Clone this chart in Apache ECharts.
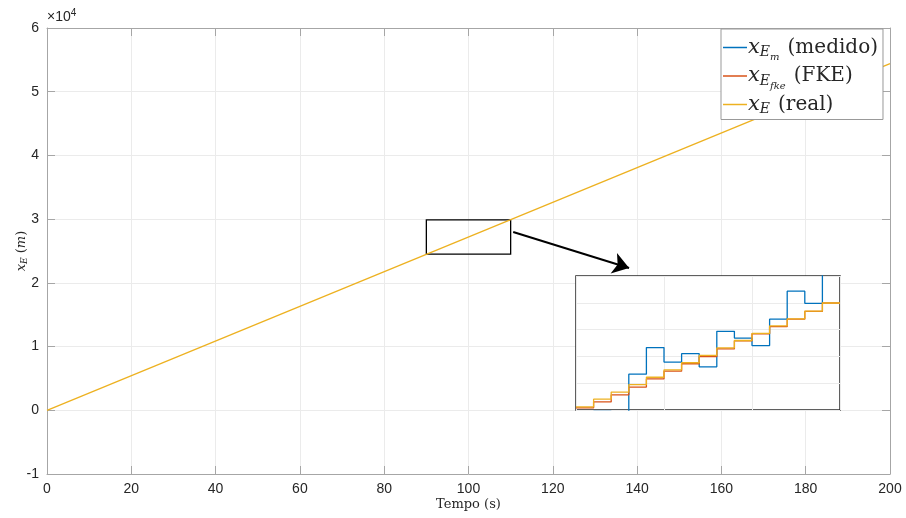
<!DOCTYPE html>
<html>
<head>
<meta charset="utf-8">
<script src="https://cdn.jsdelivr.net/npm/echarts@6/dist/echarts.min.js"></script>
<style>
  html, body { margin: 0; padding: 0; background: #fff; }
  #chart { width: 906px; height: 518px; }
</style>
</head>
<body>
<div id="chart"></div>
<script>
// recta principal (x_E real)
const mainTime = [0, 200];
const mainReal = [0, 54400];

// zoom: instantes de amostragem (1 s)
const insetTime = [95, 96, 97, 98, 99, 100, 101, 102, 103, 104, 105, 106, 107, 108, 109, 110];
const insetMedido = [24700, 24950, 24850, 26335, 27330, 26788, 27103, 26612, 27934, 27683, 27405, 28388, 29433, 28980, 30500];
const insetFKE = [25076, 25302, 25567, 25856, 26159, 26448, 26725, 26990, 27280, 27582, 27846, 28111, 28388, 28677, 28992];
const insetReal = [25113, 25403, 25667, 25945, 26222, 26499, 26763, 27040, 27317, 27594, 27859, 28136, 28400, 28690, 28992];

// caixa de zoom e seta (coordenadas de dados)
const zoomBox = [[90, 24500], [110, 29900]];
const arrowFrom = [110.6, 27990];
const arrowTo = [138.1, 22330];

const colors = { medido: '#0072BD', fke: '#D95319', real: '#EDB120' };
const axisGray = '#a6a6a6';
const gridGray = '#ebebeb';
const textGray = '#262626';

// segurar o último valor até o fim do intervalo
const steps = vals => insetTime.map((t, i) => [t, vals[Math.min(i, vals.length - 1)]]);

const legendRich = {
  x: { fontFamily: 'DejaVu Serif', fontStyle: 'italic', fontSize: 21, color: textGray, lineHeight: 28 },
  s1: { fontFamily: 'DejaVu Serif', fontStyle: 'italic', fontSize: 14, color: textGray, padding: [10, 0, 0, 0] },
  s2: { fontFamily: 'DejaVu Serif', fontStyle: 'italic', fontSize: 10, color: textGray, padding: [20, 0, 0, 0] },
  t: { fontFamily: 'DejaVu Serif', fontSize: 20, color: textGray, padding: [0, 0, 0, 8] }
};
const legendText = {
  medido: '{x|x}{s1|E}{s2|m}{t|(medido)}',
  FKE: '{x|x}{s1|E}{s2|fke}{t|(FKE)}',
  real: '{x|x}{s1|E}{t|(real)}'
};

const chart = echarts.init(document.getElementById('chart'), null, { renderer: 'canvas' });

const mainX = { min: 0, max: 200, interval: 20 };
const mainY = { min: -10000, max: 60000, interval: 10000 };

chart.setOption({
  animation: false,
  grid: [
    { left: 47, right: 16, top: 28, bottom: 44, containLabel: false, outerBoundsMode: 'none' },
    {
      left: 576, top: 276, width: 264, height: 134, z: 3, outerBoundsMode: 'none',
      show: true, backgroundColor: '#fff', borderColor: '#2b2b2b', borderWidth: 1.5
    }
  ],
  legend: {
    data: ['medido', 'FKE', 'real'],
    orient: 'vertical',
    left: 721,
    top: 29,
    padding: [8, 5, 3, 2],
    itemGap: 3,
    itemWidth: 24,
    itemHeight: 1.5,
    icon: 'rect',
    backgroundColor: '#fff',
    borderColor: '#999',
    borderWidth: 1,
    borderRadius: 0,
    z: 10,
    formatter: name => legendText[name],
    textStyle: { rich: legendRich, padding: [0, 0, 0, -4] }
  },
  graphic: [{
    type: 'text',
    left: 47,
    top: 8,
    style: {
      text: '{a|×10}{b|4}',
      rich: {
        a: { fontFamily: 'Liberation Sans', fontSize: 14, fill: textGray, lineHeight: 18 },
        b: { fontFamily: 'Liberation Sans', fontSize: 10, fill: textGray, padding: [0, 0, 8, 0] }
      }
    }
  }],
  xAxis: [
    {
      type: 'value', gridIndex: 0, ...mainX,
      name: 'Tempo (s)', nameLocation: 'middle', nameGap: 24, nameMoveOverlap: false,
      nameTextStyle: { fontFamily: 'DejaVu Serif', fontSize: 13, color: textGray },
      axisLine: { show: true, onZero: false, lineStyle: { color: axisGray, width: 1 } },
      axisTick: { show: true, inside: true, length: 8, lineStyle: { color: axisGray } },
      axisLabel: { fontFamily: 'Liberation Sans', fontSize: 14, color: textGray, margin: 8 },
      splitLine: { show: true, lineStyle: { color: gridGray, width: 1 } }
    },
    {
      type: 'value', gridIndex: 0, position: 'top', ...mainX,
      axisLine: { show: true, onZero: false, lineStyle: { color: axisGray, width: 1 } },
      axisTick: { show: true, inside: true, length: 8, lineStyle: { color: axisGray } },
      axisLabel: { show: false },
      splitLine: { show: false }
    },
    {
      type: 'value', gridIndex: 1, min: 95, max: 110, interval: 5, z: 4,
      axisLine: { show: false, onZero: false }, axisTick: { show: false }, axisLabel: { show: false },
      splitLine: { show: true, lineStyle: { color: gridGray, width: 1 } }
    }
  ],
  yAxis: [
    {
      type: 'value', gridIndex: 0, ...mainY,
      name: '{x|x}{s|E}{t| (}{m|m}{t|)}', nameLocation: 'middle', nameGap: 18, nameRotate: 90,
      nameMoveOverlap: false,
      nameTextStyle: {
        rich: {
          x: { fontFamily: 'DejaVu Serif', fontStyle: 'italic', fontSize: 13, color: textGray },
          s: { fontFamily: 'DejaVu Serif', fontStyle: 'italic', fontSize: 9, color: textGray, padding: [6, 0, 0, 0] },
          t: { fontFamily: 'DejaVu Serif', fontSize: 13, color: textGray },
          m: { fontFamily: 'DejaVu Serif', fontStyle: 'italic', fontSize: 13, color: textGray }
        }
      },
      axisLine: { show: true, onZero: false, lineStyle: { color: axisGray, width: 1 } },
      axisTick: { show: true, inside: true, length: 8, lineStyle: { color: axisGray } },
      axisLabel: {
        fontFamily: 'Liberation Sans', fontSize: 14, color: textGray, margin: 8,
        formatter: v => String(Math.round(v / 10000))
      },
      splitLine: { show: true, lineStyle: { color: gridGray, width: 1 } }
    },
    {
      type: 'value', gridIndex: 0, position: 'right', ...mainY,
      axisLine: { show: true, onZero: false, lineStyle: { color: axisGray, width: 1 } },
      axisTick: { show: true, inside: true, length: 8, lineStyle: { color: axisGray } },
      axisLabel: { show: false },
      splitLine: { show: false }
    },
    {
      type: 'value', gridIndex: 1, min: 25000, max: 30000, interval: 1000, z: 4,
      axisLine: { show: false, onZero: false }, axisTick: { show: false }, axisLabel: { show: false },
      splitLine: { show: true, lineStyle: { color: gridGray, width: 1 } }
    }
  ],
  series: [
    {
      name: 'real', type: 'line', xAxisIndex: 0, yAxisIndex: 0,
      data: mainTime.map((t, i) => [t, mainReal[i]]),
      symbol: 'none', color: colors.real,
      lineStyle: { color: colors.real, width: 1.3 },
      markArea: {
        silent: true,
        itemStyle: { color: 'rgba(0,0,0,0)', borderColor: '#000', borderWidth: 1.3 },
        data: [[{ coord: zoomBox[0] }, { coord: zoomBox[1] }]]
      },
      markLine: {
        silent: true,
        symbol: ['none', 'arrow'],
        symbolSize: 16,
        label: { show: false },
        lineStyle: { color: '#000', width: 2, type: 'solid' },
        data: [[{ coord: arrowFrom }, { coord: arrowTo }]]
      }
    },
    {
      name: 'medido', type: 'line', xAxisIndex: 2, yAxisIndex: 2, z: 6,
      data: steps(insetMedido), step: 'end', symbol: 'none', clip: true,
      color: colors.medido, lineStyle: { color: colors.medido, width: 1.3 }
    },
    {
      name: 'FKE', type: 'line', xAxisIndex: 2, yAxisIndex: 2, z: 6,
      data: steps(insetFKE), step: 'end', symbol: 'none', clip: true,
      color: colors.fke, lineStyle: { color: colors.fke, width: 1.3 }
    },
    {
      name: 'real', type: 'line', xAxisIndex: 2, yAxisIndex: 2, z: 6,
      data: steps(insetReal), step: 'end', symbol: 'none', clip: true,
      color: colors.real, lineStyle: { color: colors.real, width: 1.3 }
    }
  ]
});
</script>
</body>
</html>
